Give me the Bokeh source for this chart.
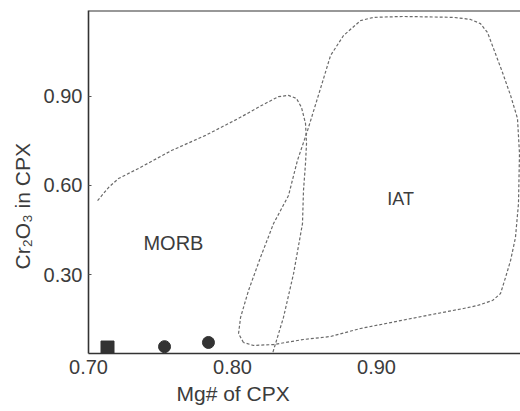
from bokeh.plotting import figure
from bokeh.models import FixedTicker, Span, Label, Title, NumeralTickFormatter
from bokeh.embed import file_html
from bokeh.resources import INLINE

# ---- data ----
x_ticks = [0.70, 0.80, 0.90]
y_ticks = [0.30, 0.60, 0.90]

morb_x = [0.7063, 0.7139, 0.7208, 0.7347, 0.7576, 0.7813, 0.8042, 0.8201, 0.8319,
          0.8389, 0.8444, 0.8479, 0.8507, 0.8514, 0.8507, 0.8493, 0.8486, 0.8424,
          0.8354, 0.8278]
morb_y = [0.549, 0.593, 0.623, 0.657, 0.717, 0.768, 0.825, 0.868, 0.898,
          0.902, 0.892, 0.862, 0.808, 0.741, 0.674, 0.583, 0.472, 0.304,
          0.157, 0.036]

iat_x = [0.8076, 0.8042, 0.8056, 0.8111, 0.8194, 0.8285, 0.8389, 0.8451, 0.8521,
         0.8611, 0.8681, 0.8771, 0.8889, 0.8979, 0.9188, 0.9535, 0.9653, 0.9722,
         0.9771, 0.9813, 0.9875, 0.9931, 0.9979, 0.9993, 0.9986, 0.9965, 0.9931,
         0.9896, 0.9861, 0.9806, 0.9701, 0.9604, 0.9354, 0.8889, 0.8681, 0.8493,
         0.8285, 0.8146]
iat_y = [0.073, 0.103, 0.157, 0.247, 0.358, 0.472, 0.566, 0.684, 0.784,
         0.925, 1.036, 1.103, 1.153, 1.164, 1.167, 1.164, 1.157, 1.143,
         1.113, 1.059, 0.979, 0.902, 0.825, 0.707, 0.539, 0.425, 0.348,
         0.291, 0.237, 0.214, 0.197, 0.187, 0.164, 0.120, 0.093, 0.083,
         0.066, 0.063]

square_x = [0.7132]
square_y = [0.056]
circle_x = [0.7528, 0.7833]
circle_y = [0.059, 0.073]

region_names = ["MORB", "IAT"]
region_x = [0.759, 0.9167]
region_y = [0.408, 0.553]
region_sizes = ["20px", "18px"]

x_title = "Mg# of CPX"
y_title = "Cr\u2082O\u2083 in CPX"

X0, X1 = 0.70, 1.00
Y0, Y1 = 0.036, 1.187

FONT = "Liberation Sans"
TXT = "#3c3c3c"
LINE = "#6a6a6a"

p = figure(frame_width=432, frame_height=343, x_range=(X0, X1), y_range=(Y0, Y1),
           output_backend="svg", toolbar_location=None,
           min_border_left=88, min_border_right=0, min_border_top=10, min_border_bottom=10)
p.outline_line_color = None
p.grid.visible = False
p.background_fill_color = "white"

for ax in (p.xaxis[0], p.yaxis[0]):
    ax.axis_line_color = "#333333"
    ax.axis_line_width = 1.6
    ax.minor_tick_line_color = None
    ax.major_label_text_font = FONT
    ax.major_label_text_font_size = "20px"
    ax.major_label_text_color = TXT
    ax.formatter = NumeralTickFormatter(format="0.00")

p.xaxis.ticker = FixedTicker(ticks=x_ticks)
p.yaxis.ticker = FixedTicker(ticks=y_ticks)
p.xaxis.major_tick_in = 0
p.xaxis.major_tick_out = 0
p.xaxis.major_label_standoff = 6
p.yaxis.major_tick_in = 3
p.yaxis.major_tick_out = 0
p.yaxis.major_tick_line_color = "#555555"
p.yaxis.major_label_standoff = 6

# top border
p.add_layout(Span(location=Y1, dimension="width", line_color="#333333", line_width=2))

# region outlines
p.line(morb_x, morb_y, line_color=LINE, line_width=1.2, line_dash="3 2")
p.line(iat_x + iat_x[:1], iat_y + iat_y[:1], line_color=LINE, line_width=1.2, line_dash="3 2")

# sample points
p.scatter(square_x, square_y, marker="square", size=13, fill_color="#333333", line_color="#333333")
p.scatter(circle_x, circle_y, marker="circle", size=12, fill_color="#333333", line_color="#333333")

for name, xx, yy, fs in zip(region_names, region_x, region_y, region_sizes):
    p.add_layout(Label(x=xx, y=yy, text=name, text_align="center", text_baseline="middle",
                       text_font=FONT, text_font_size=fs, text_color=TXT))

# axis titles as side titles (offset to match the reference positions)
xt = Title(text=x_title, align="left", offset=88, standoff=6, text_font=FONT,
           text_font_size="21px", text_font_style="normal", text_color=TXT)
p.add_layout(xt, "below")
yt = Title(text=y_title, align="left", offset=84, standoff=14, text_font=FONT,
           text_font_size="21px", text_font_style="normal", text_color=TXT)
p.add_layout(yt, "left")

open("out.html", "w").write(file_html(p, INLINE))
